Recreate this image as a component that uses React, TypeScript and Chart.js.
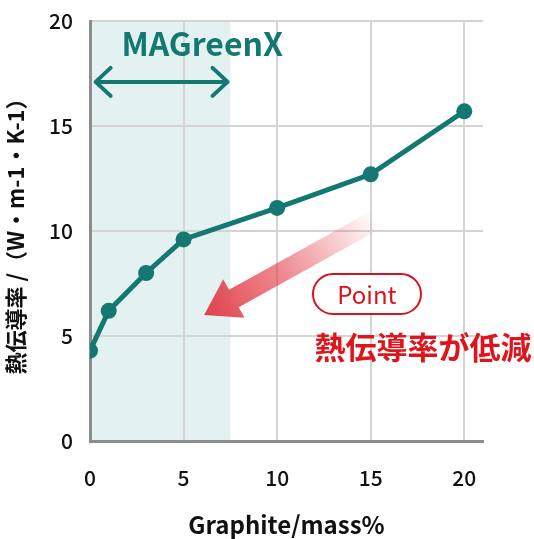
import { useEffect, useRef } from "react"
import { Chart, registerables } from "chart.js"

Chart.register(...registerables)

// data
const graphite = [0, 1, 3, 5, 10, 15, 20]
const conductivity = [4.3, 6.2, 8.0, 9.6, 11.1, 12.7, 15.7]
const xTicks = [0, 5, 10, 15, 20]
const yTicks = [0, 5, 10, 15, 20]

const TEAL = "#137772"
const RED = "#d7141e"
const JP = "'Noto Sans CJK JP', 'Noto Sans', sans-serif"

// annotation anchors (data units)
const shadeRange = [0, 7.5]
const rangeArrow = { from: 0.3, to: 7.35, y: 17.1 }
const brandLabel = { x: 6.0, y: 18.9, text: "MAGreenX" }
const redArrow = { tail: [15.3, 10.55], tip: [6.1, 6.0] }
const pointLabel = { x: 14.8, y: 7.0, text: "Point" }
const noteLabel = { x: 17.8, y: 4.45, text: "熱伝導率が低減" }

const annotate = {
  id: "annotate",
  beforeDraw(chart: any) {
    const { ctx, chartArea, scales } = chart
    const x0 = scales.x.getPixelForValue(shadeRange[0])
    const x1 = scales.x.getPixelForValue(shadeRange[1])
    ctx.save()
    ctx.fillStyle = "#e3f2f1"
    ctx.fillRect(x0, chartArea.top, x1 - x0, chartArea.bottom - chartArea.top)
    ctx.restore()
  },
  afterDatasetsDraw(chart: any) {
    const { ctx, scales } = chart
    const px = (v: number) => scales.x.getPixelForValue(v)
    const py = (v: number) => scales.y.getPixelForValue(v)
    ctx.save()

    // brand label + double arrow
    ctx.fillStyle = TEAL
    ctx.font = `bold 32px ${JP}`
    ctx.textAlign = "center"
    ctx.textBaseline = "middle"
    ctx.fillText(brandLabel.text, px(brandLabel.x), py(brandLabel.y))

    const ax0 = px(rangeArrow.from)
    const ax1 = px(rangeArrow.to)
    const ay = py(rangeArrow.y)
    ctx.strokeStyle = TEAL
    ctx.lineWidth = 4
    ctx.lineCap = "round"
    ctx.lineJoin = "round"
    ctx.beginPath()
    ctx.moveTo(ax0, ay)
    ctx.lineTo(ax1, ay)
    ctx.moveTo(ax0 + 15, ay - 14)
    ctx.lineTo(ax0, ay)
    ctx.lineTo(ax0 + 15, ay + 14)
    ctx.moveTo(ax1 - 15, ay - 14)
    ctx.lineTo(ax1, ay)
    ctx.lineTo(ax1 - 15, ay + 14)
    ctx.stroke()

    // red gradient arrow
    const tx = px(redArrow.tail[0])
    const ty = py(redArrow.tail[1])
    const hx = px(redArrow.tip[0])
    const hy = py(redArrow.tip[1])
    const len = Math.hypot(hx - tx, hy - ty)
    const ux = (hx - tx) / len
    const uy = (hy - ty) / len
    const nx = -uy
    const ny = ux
    const headLen = 34
    const headW = 22
    const shaftW = 10
    const bx = hx - ux * headLen
    const by = hy - uy * headLen
    const grad = ctx.createLinearGradient(tx, ty, hx, hy)
    grad.addColorStop(0, "rgba(226, 60, 70, 0)")
    grad.addColorStop(0.55, "rgba(226, 60, 70, 0.6)")
    grad.addColorStop(1, "rgba(224, 56, 66, 0.95)")
    ctx.fillStyle = grad
    ctx.beginPath()
    ctx.moveTo(tx + nx * shaftW, ty + ny * shaftW)
    ctx.lineTo(bx + nx * shaftW, by + ny * shaftW)
    ctx.lineTo(bx + nx * headW, by + ny * headW)
    ctx.lineTo(hx, hy)
    ctx.lineTo(bx - nx * headW, by - ny * headW)
    ctx.lineTo(bx - nx * shaftW, by - ny * shaftW)
    ctx.lineTo(tx - nx * shaftW, ty - ny * shaftW)
    ctx.closePath()
    ctx.fill()

    // Point pill
    const cx = px(pointLabel.x)
    const cy = py(pointLabel.y)
    const w = 108
    const h = 40
    ctx.strokeStyle = RED
    ctx.lineWidth = 2
    ctx.beginPath()
    ctx.roundRect(cx - w / 2, cy - h / 2, w, h, h / 2)
    ctx.fillStyle = "#ffffff"
    ctx.fill()
    ctx.stroke()
    ctx.fillStyle = RED
    ctx.font = `24px ${JP}`
    ctx.fillText(pointLabel.text, cx, cy + 1)

    // red note
    ctx.fillStyle = "#e0141c"
    ctx.font = `bold 31px ${JP}`
    ctx.fillText(noteLabel.text, px(noteLabel.x), py(noteLabel.y))

    ctx.restore()
  },
}

export default function App() {
  const chartRef = useRef<HTMLCanvasElement>(null)
  const chartInstance = useRef<Chart | null>(null)

  useEffect(() => {
    if (!chartRef.current) return
    if (chartInstance.current) chartInstance.current.destroy()

    const tickFont = { family: JP, size: 21, weight: 500 as const }

    chartInstance.current = new Chart(chartRef.current, {
      type: "line",
      data: {
        datasets: [
          {
            data: graphite.map((g, i) => ({ x: g, y: conductivity[i] })),
            borderColor: TEAL,
            backgroundColor: TEAL,
            borderWidth: 5,
            pointRadius: 8,
            pointHoverRadius: 8,
            pointBorderWidth: 0,
            tension: 0,
          },
        ],
      },
      options: {
        animation: false,
        responsive: true,
        maintainAspectRatio: false,
        layout: { padding: { top: 21, right: 51, left: 0, bottom: 0 } },
        plugins: { legend: { display: false }, tooltip: { enabled: false } },
        scales: {
          x: {
            type: "linear",
            min: 0,
            max: 21,
            afterFit: (s: any) => {
              s.height = 98
              s.paddingLeft = 0
              s.paddingRight = 0
            },
            afterBuildTicks: (s: any) => {
              s.ticks = xTicks.map((v) => ({ value: v }))
            },
            ticks: { font: tickFont, color: "#111", padding: 24, maxRotation: 0 },
            grid: { color: "#d4d4d4", lineWidth: 2, drawTicks: false },
            border: { color: "#8c8c8c", width: 3 },
            title: {
              display: true,
              text: "Graphite/mass%",
              color: "#111",
              font: { family: JP, size: 24, weight: "bold" },
              padding: { top: 0, bottom: 0 },
            },
          },
          y: {
            min: 0,
            max: 20,
            afterFit: (s: any) => {
              s.width = 90
              s.paddingTop = 0
              s.paddingBottom = 0
            },
            afterBuildTicks: (s: any) => {
              s.ticks = yTicks.map((v) => ({ value: v }))
            },
            ticks: { font: tickFont, color: "#111", padding: 17 },
            grid: { color: "#d4d4d4", lineWidth: 2, drawTicks: false },
            border: { color: "#8c8c8c", width: 3 },
            title: {
              display: true,
              text: "熱伝導率 /（W・m-1・K-1）",
              color: "#111",
              font: { family: JP, size: 22, weight: "bold" },
              padding: { top: 2, bottom: 0 },
            },
          },
        },
      },
      plugins: [annotate],
    })

    return () => {
      if (chartInstance.current) {
        chartInstance.current.destroy()
        chartInstance.current = null
      }
    }
  }, [])

  return (
    <div style={{ position: "absolute", left: 0, top: 0, width: 534, height: 539 }}>
      <canvas ref={chartRef} />
    </div>
  )
}
